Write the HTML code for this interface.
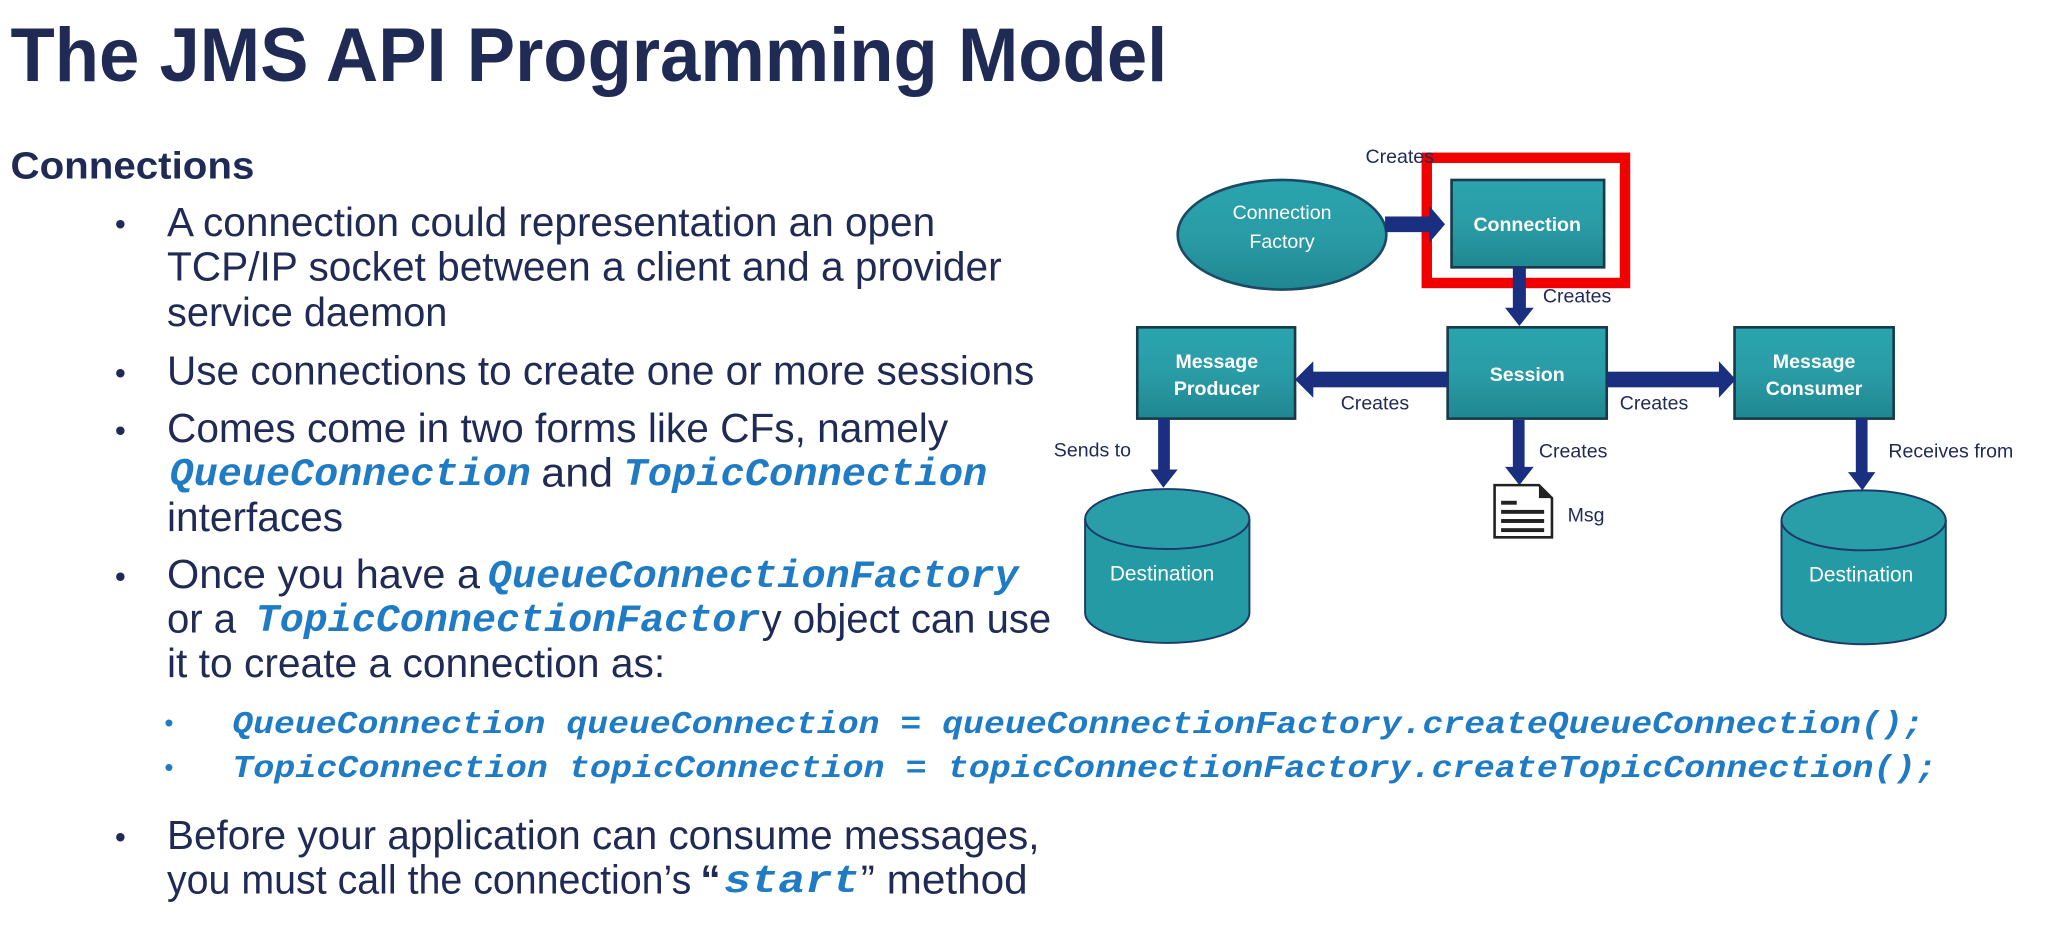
<!DOCTYPE html>
<html><head><meta charset="utf-8"><style>
html,body{margin:0;padding:0;background:#fff;width:2045px;height:952px;overflow:hidden}
svg{display:block}
.t{font-family:"Liberation Sans",Arial,sans-serif;fill:#1f2a55}
.c{font-family:"Liberation Mono",monospace;font-weight:bold;font-style:italic;fill:#1f7cc4}
.w{font-family:"Liberation Sans",Arial,sans-serif;fill:#fff;text-anchor:middle}
.l{font-family:"Liberation Sans",Arial,sans-serif;fill:#1f2a55;font-size:15px}
</style></head><body>
<svg width="2045" height="952" viewBox="0 0 1568 730" xmlns="http://www.w3.org/2000/svg">
<defs>
<linearGradient id="g" x1="0" y1="0" x2="0" y2="1"><stop offset="0" stop-color="#2aa4ae"/><stop offset="0.5" stop-color="#2a9ca6"/><stop offset="1" stop-color="#1f8791"/></linearGradient>
</defs>
<text class="t" x="8" y="62" font-size="58" font-weight="bold" textLength="887" lengthAdjust="spacingAndGlyphs">The JMS API Programming Model</text>
<text class="t" x="8" y="137" font-size="29" font-weight="bold" textLength="187" lengthAdjust="spacingAndGlyphs">Connections</text>
<g class="t" font-size="31">
<text x="88" y="180" font-size="24">•</text>
<text x="128" y="181" textLength="589" lengthAdjust="spacingAndGlyphs">A connection could representation an open</text>
<text x="128" y="215" textLength="640" lengthAdjust="spacingAndGlyphs">TCP/IP socket between a client and a provider</text>
<text x="128" y="250" textLength="215" lengthAdjust="spacingAndGlyphs">service daemon</text>
<text x="88" y="294" font-size="24">•</text>
<text x="128" y="295" textLength="665" lengthAdjust="spacingAndGlyphs">Use connections to create one or more sessions</text>
<text x="88" y="338" font-size="24">•</text>
<text x="128" y="339" textLength="599" lengthAdjust="spacingAndGlyphs">Comes come in two forms like CFs, namely</text>
<text x="415" y="373" textLength="55" lengthAdjust="spacingAndGlyphs">and</text>
<text x="128" y="407" textLength="135" lengthAdjust="spacingAndGlyphs">interfaces</text>
<text x="88" y="450" font-size="24">•</text>
<text x="128" y="451" textLength="240" lengthAdjust="spacingAndGlyphs">Once you have a</text>
<text x="128" y="485" textLength="53" lengthAdjust="spacingAndGlyphs">or a</text>
<text x="584" y="485" textLength="222" lengthAdjust="spacingAndGlyphs">y object can use</text>
<text x="128" y="519" textLength="382" lengthAdjust="spacingAndGlyphs">it to create a connection as:</text>
<text x="88" y="650" font-size="24">•</text>
<text x="128" y="651" textLength="669" lengthAdjust="spacingAndGlyphs">Before your application can consume messages,</text>
<text x="128" y="685" textLength="402" lengthAdjust="spacingAndGlyphs">you must call the connection’s</text>
<text x="537" y="685" font-weight="bold">“</text>
<text x="660" y="685" textLength="128" lengthAdjust="spacingAndGlyphs">” method</text>
</g>
<g class="c" font-size="30">
<text x="130" y="372" textLength="277" lengthAdjust="spacingAndGlyphs">QueueConnection</text>
<text x="478" y="372" textLength="279" lengthAdjust="spacingAndGlyphs">TopicConnection</text>
<text x="374" y="450" textLength="407" lengthAdjust="spacingAndGlyphs">QueueConnectionFactory</text>
<text x="196" y="484" textLength="387" lengthAdjust="spacingAndGlyphs">TopicConnectionFactor</text>
<text x="555" y="684" textLength="104" lengthAdjust="spacingAndGlyphs">start</text>
</g>
<g font-size="20">
<text class="t" x="126" y="561" style="fill:#1f7cc4">•</text>
<text class="t" x="126" y="595" style="fill:#1f7cc4">•</text>
</g>
<g font-size="24">
<text class="c" x="178" y="562" textLength="1297" lengthAdjust="spacingAndGlyphs">QueueConnection queueConnection = queueConnectionFactory.createQueueConnection();</text>
<text class="c" x="178" y="596" textLength="1307" lengthAdjust="spacingAndGlyphs">TopicConnection topicConnection = topicConnectionFactory.createTopicConnection();</text>
</g>

<!-- diagram -->
<rect x="1094" y="121" width="152" height="96" fill="none" stroke="#f20000" stroke-width="8"/>
<ellipse cx="983" cy="180" rx="80" ry="42" fill="url(#g)" stroke="#1b4a66" stroke-width="2"/>
<text class="w" x="983" y="168" font-size="15">Connection</text>
<text class="w" x="983" y="190" font-size="15">Factory</text>
<g stroke="#163a4a" stroke-width="2" fill="url(#g)">
<rect x="1113" y="138" width="117" height="67"/>
<rect x="1110" y="251" width="122" height="70"/>
<rect x="872" y="251" width="121" height="70"/>
<rect x="1330" y="251" width="122" height="70"/>
</g>
<g class="w" font-size="15" font-weight="bold">
<text x="1171" y="177">Connection</text>
<text x="1171" y="292">Session</text>
<text x="933" y="282">Message</text>
<text x="933" y="303">Producer</text>
<text x="1391" y="282">Message</text>
<text x="1391" y="303">Consumer</text>
</g>
<g fill="#1b2f80">
<rect x="1062" y="166" width="35" height="12"/><polygon points="1096,158 1108,172 1096,186"/>
<rect x="1160" y="205" width="10" height="33"/><polygon points="1154,236 1176,236 1165,250"/>
<rect x="1006" y="285" width="104" height="12"/><polygon points="1007,277 993,291 1007,305"/>
<rect x="1232" y="285" width="88" height="12"/><polygon points="1318,277 1331,291 1318,305"/>
<rect x="888" y="321" width="9" height="40"/><polygon points="882,360 903,360 892,374"/>
<rect x="1160" y="322" width="9" height="38"/><polygon points="1154,358 1176,358 1165,372"/>
<rect x="1423" y="321" width="9" height="42"/><polygon points="1417,362 1438,362 1428,376"/>
</g>
<g class="l">
<text x="1047" y="125">Creates</text>
<text x="1183" y="232">Creates</text>
<text x="1028" y="314">Creates</text>
<text x="1242" y="314">Creates</text>
<text x="808" y="350">Sends to</text>
<text x="1180" y="351">Creates</text>
<text x="1448" y="351">Receives from</text>
<text x="1202" y="400">Msg</text>
</g>
<path d="M1146,372 L1180,372 L1190,382 L1190,412 L1146,412 Z" fill="#fff" stroke="#222" stroke-width="2"/>
<path d="M1180,372 L1180,382 L1190,382 Z" fill="#222"/>
<g fill="#222"><rect x="1151" y="384" width="12" height="3"/><rect x="1151" y="391" width="33" height="3"/><rect x="1151" y="398" width="33" height="3"/><rect x="1151" y="405" width="33" height="3"/></g>
<g stroke="#1b3a6a" stroke-width="1.5">
<path d="M832,398 L832,470 A63,23 0 0 0 958,470 L958,398" fill="#249aa4"/>
<ellipse cx="895" cy="398" rx="63" ry="23" fill="#2a9ea8"/>
<path d="M1366,399 L1366,471 A63,23 0 0 0 1492,471 L1492,399" fill="#249aa4"/>
<ellipse cx="1429" cy="399" rx="63" ry="23" fill="#2a9ea8"/>
</g>
<text class="w" x="891" y="445" font-size="16">Destination</text>
<text class="w" x="1427" y="446" font-size="16">Destination</text>
</svg>
</body></html>
